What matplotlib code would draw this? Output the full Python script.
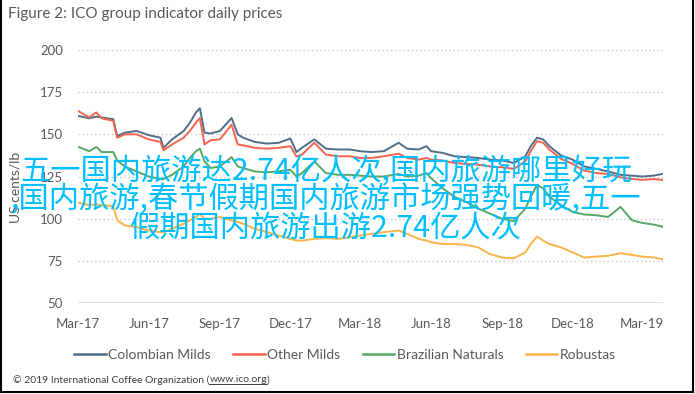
import matplotlib
matplotlib.use("Agg")
import matplotlib.pyplot as plt
import matplotlib.dates as mdates
from matplotlib.lines import Line2D
import datetime as dt

dates = ["2017-03-01", "2017-03-16", "2017-03-25", "2017-04-01", "2017-04-16", "2017-04-21",
         "2017-05-01", "2017-05-16", "2017-06-01", "2017-06-16", "2017-06-20", "2017-07-01",
         "2017-07-16", "2017-07-24", "2017-08-01", "2017-08-06", "2017-08-12", "2017-08-20",
         "2017-09-01", "2017-09-16", "2017-09-24", "2017-10-01", "2017-10-16", "2017-11-01",
         "2017-11-16", "2017-12-01", "2017-12-09", "2017-12-16",
         "2018-01-01", "2018-01-16", "2018-02-01", "2018-02-16", "2018-03-01", "2018-03-16",
         "2018-04-01", "2018-04-20", "2018-05-01", "2018-05-16", "2018-05-26", "2018-06-01",
         "2018-06-16", "2018-07-01", "2018-07-16", "2018-08-01", "2018-08-16", "2018-09-01",
         "2018-09-16", "2018-10-01", "2018-10-08", "2018-10-16", "2018-10-24", "2018-11-01",
         "2018-11-16", "2018-12-01", "2018-12-16",
         "2019-01-01", "2019-01-16", "2019-02-01", "2019-02-16", "2019-03-01", "2019-03-16",
         "2019-03-27"]

colombian_milds = [161, 159.5, 160.5, 160, 159, 149, 151, 152, 149.5, 148, 142, 147, 152, 156.8,
                   163, 165.5, 151, 150.5, 152, 159.7, 150, 148, 145.5, 144.5, 145, 147.5, 139.5, 142,
                   147, 141.5, 141, 141, 140, 139.5, 140, 145, 141.5, 141, 143, 140, 139, 137,
                   136.5, 136, 135, 134.5, 133, 137, 143, 148, 147, 143, 137.5, 135, 131,
                   129.5, 128, 126, 125.5, 125, 125.5, 126.5]
other_milds = [164, 160, 163, 159.5, 158, 148, 150, 150, 147, 145.5, 140.5, 144, 148, 152,
               157, 159.7, 144, 146.5, 147, 155.7, 144, 143.5, 142, 141.5, 142, 143, 136.8, 138,
               145, 138, 137, 137, 136, 136, 137, 138.5, 136, 135, 136, 135, 134.5, 133,
               132.5, 132, 131, 130.5, 129.5, 134, 140, 146, 145, 141, 135.5, 132.5, 128.5,
               127, 126.5, 124.5, 123.5, 123, 123.5, 123]
brazilian_naturals = [142.7, 140, 142.5, 139.5, 139.5, 134.5, 131, 128, 125, 123.5, 123.5, 126, 131, 136,
                      140, 141.5, 134, 130, 131, 136.5, 131, 130, 128, 127.5, 128, 129, 125, 127,
                      134, 127, 126, 126, 125.5, 125, 125, 126.5, 125, 125.5, 127, 124, 118, 113,
                      110, 106, 103, 100, 98.5, 106, 113, 120, 118, 113, 108, 104, 102.5,
                      102, 101, 107, 99, 97.5, 96.5, 95.3]
robustas = [109.5, 108, 108.5, 108, 107.5, 99, 96, 95, 93, 92, 92, 94, 97, 99,
            101, 103, 100, 100, 101, 99, 98, 97, 94, 92, 90, 88, 87, 87,
            88, 88.5, 88, 89, 90, 91, 92, 93, 91, 88, 87, 86, 85, 85,
            84.5, 83, 79, 77, 76.5, 80, 85, 89.4, 87, 85, 83, 80, 77,
            77.5, 78, 79.5, 78.5, 77.5, 77, 76]

series_names = ["Colombian Milds", "Other Milds", "Brazilian Naturals", "Robustas"]
series_values = [colombian_milds, other_milds, brazilian_naturals, robustas]
series_colors = ["#4f6f88", "#f26450", "#55a865", "#fbb44a"]

yticks = [50, 75, 100, 125, 150, 175, 200]
title = "Figure 2: ICO group indicator daily prices"
ylabel = "US cents/lb"
credit = "\u00a9 2019 International Coffee Organization ("
credit_link = "www.ico.org"
overlay_lines = ["五一国内旅游达2.74亿人次,国内旅游哪里好玩",
                 ",国内旅游,春节假期国内旅游市场强势回暖,五一",
                 "假期国内旅游出游2.74亿人次"]

W, H = 695, 394
plt.rcParams['font.family'] = ['Lato', 'DejaVu Sans']
fig = plt.figure(figsize=(W / 100, H / 100), dpi=100)
fig.patch.set_facecolor("white")

ax = fig.add_axes([77.7 / W, 1 - 303 / H, (663 - 77.7) / W, (303 - 50) / H])
x = [dt.datetime.strptime(d, "%Y-%m-%d") for d in dates]
for name, vals, col in zip(series_names, series_values, series_colors):
    ax.plot(x, vals, color=col, lw=1.4, label=name, solid_joinstyle="round")

ax.set_xlim(dt.datetime(2017, 3, 1), dt.datetime(2019, 3, 28))
ax.set_ylim(50, 200)
ax.set_yticks(yticks)
for yv in yticks[1:]:
    ax.axhline(yv, color="#c8c8c8", lw=1.0, ls=(0, (1, 2)), zorder=0)
ax.axhline(50, color="#d9d9d9", lw=1.2, zorder=0)
for s in ax.spines.values():
    s.set_visible(False)
ax.xaxis.set_major_locator(mdates.MonthLocator(bymonth=[3, 6, 9, 12]))
ax.xaxis.set_major_formatter(mdates.DateFormatter("%b-%y"))
ax.tick_params(axis="both", length=0, labelsize=9.5, colors="#595959")
ax.tick_params(axis="y", pad=10.5)
ax.tick_params(axis="x", pad=11)

fig.text(8 / W, 1 - 14 / H, title, fontsize=11, color="#595959", va="center", ha="left")
fig.text(15 / W, 1 - 187 / H, ylabel, fontsize=10, color="#595959", rotation=90,
         va="center", ha="center")

handles = [Line2D([], [], color=c, lw=1.8) for c in series_colors]
leg = fig.legend(handles, series_names, loc="center", bbox_to_anchor=(345 / W, 1 - 355 / H),
                 ncol=4, frameon=False, fontsize=10, handlelength=2.3, handletextpad=0.15,
                 columnspacing=1.6)
for t in leg.get_texts():
    t.set_color("#595959")

# credit line with underlined link
t1 = fig.text(13 / W, 1 - 380 / H, credit, fontsize=7.5, color="#404040", va="center", ha="left")
fig.canvas.draw()
r = fig.canvas.get_renderer()
bb = t1.get_window_extent(r)
t2 = fig.text(bb.x1 / W, 1 - 380 / H, credit_link, fontsize=7.5, color="#404040", va="center", ha="left")
bb2 = t2.get_window_extent(r)
t3 = fig.text(bb2.x1 / W, 1 - 380 / H, ")", fontsize=7.5, color="#404040", va="center", ha="left")
fig.add_artist(Line2D([bb2.x0 / W, bb2.x1 / W], [(bb2.y0 + 1) / H, (bb2.y0 + 1) / H],
                      color="#404040", lw=0.7))

# frame: left, right, bottom edges
fx0, fx1, fyb = 0.8 / W, 692.7 / W, 1 - 391.5 / H
fig.add_artist(Line2D([fx0, fx0, fx1, fx1], [1, fyb, fyb, 1], color="black", lw=1.5,
                      solid_joinstyle="miter"))

# overlay text
for i, line in enumerate(overlay_lines):
    fig.text(326 / W, 1 - (172 + 28 * i) / H, line, fontsize=21.8, color="#00bfff", weight=500,
             family=["Noto Sans CJK SC", "DejaVu Sans"], ha="center", va="center", zorder=10)

fig.savefig("out.png", dpi=100)
